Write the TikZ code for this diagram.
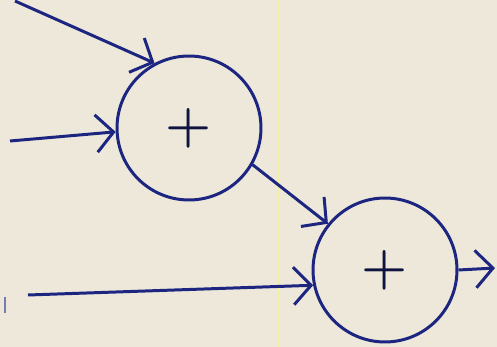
\documentclass[tikz,border=0pt]{standalone}
\usepackage{tikz}
\usetikzlibrary{arrows.meta}
\definecolor{paper}{HTML}{EDE8D9}
\definecolor{ink}{HTML}{1C2580}
\definecolor{crease}{HTML}{F2F0A0}

\begin{document}
\begin{tikzpicture}[x=0.02cm, y=-0.02cm, line width=1.7pt]
\tikzstyle{sum}=[circle, draw=ink, minimum size=2.88cm, inner sep=0pt,
  font=\fontsize{30}{34}\selectfont\bfseries, text=ink!50!black]
\tikzstyle{flow}=[draw=ink, -{Straight Barb[length=3.5mm, width=7.5mm]}]
\fill[paper] (0,0) rectangle (497,347);
\useasboundingbox (0,0) rectangle (497,347);
\draw[crease, line width=0.8pt] (278,0) -- (278,347);
\draw[ink!60, line width=0.6pt] (5,297) -- (5,313);
\node[sum] (sum1) at (189,128) {+};
\node[sum] (sum2) at (385,270) {+};
\coordinate (in1) at (15,1);
\coordinate (in2) at (10,141);
\coordinate (in3) at (28,295);
\coordinate (out) at (495,268);
\draw[flow] (in1) -- (sum1.118);
\draw[flow] (in2) -- (sum1.183);
\draw[flow] (sum1.-30) -- (sum2.141);
\draw[flow] (in3) -- (sum2.192);
\draw[flow] (sum2.east) -- (out);
\end{tikzpicture}
\end{document}
